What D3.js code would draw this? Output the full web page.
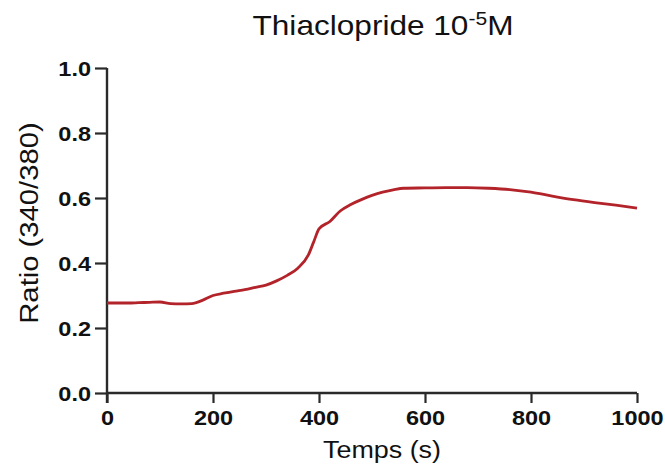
<!DOCTYPE html>
<html>
<head>
<meta charset="utf-8">
<script src="https://cdn.jsdelivr.net/npm/d3@7"></script>
<style>
  html, body { margin: 0; padding: 0; background: #fff; }
  svg { display: block; }
  text { font-family: "Liberation Sans", Arial, sans-serif; fill: #111; }
</style>
</head>
<body>
<svg id="chart" width="665" height="471"></svg>
<script>
// ---- data ----
const timeSeconds = [0, 20, 40, 60, 80, 100, 120, 140, 160, 180, 200, 220, 240, 260, 280, 300, 320, 340, 360, 380, 390, 400, 420, 440, 460, 480, 500, 520, 540, 560, 600, 640, 680, 720, 760, 800, 840, 880, 920, 960, 1000];
const ratioValues = [0.277, 0.277, 0.277, 0.278, 0.279, 0.280, 0.275, 0.274, 0.275, 0.285, 0.300, 0.307, 0.313, 0.318, 0.325, 0.332, 0.345, 0.362, 0.384, 0.425, 0.465, 0.505, 0.527, 0.560, 0.580, 0.595, 0.608, 0.618, 0.625, 0.630, 0.631, 0.632, 0.632, 0.630, 0.626, 0.618, 0.606, 0.595, 0.586, 0.578, 0.569];
const xTicks = [0, 200, 400, 600, 800, 1000];
const yTicks = [0.0, 0.2, 0.4, 0.6, 0.8, 1.0];
const titleMain = "Thiaclopride 10";
const titleSup = "-5";
const titleEnd = "M";
const xTitle = "Temps (s)";
const yTitle = "Ratio (340/380)";

const svg = d3.select("#chart");
const SX = 1.17;     // horizontal glyph stretch for titles
const SXT = 1.12;    // for tick labels

const x = d3.scaleLinear().domain([0, 1000]).range([107, 637]);
const y = d3.scaleLinear().domain([0, 1]).range([393, 68]);

// axes
const axisColor = "#2a2a2a";
const gx = svg.append("g").attr("transform", `translate(0,${y(0)})`)
  .call(d3.axisBottom(x).tickValues(xTicks).tickSize(10).tickPadding(0).tickFormat(d3.format("d")));
const gy = svg.append("g").attr("transform", `translate(${x(0)},0)`)
  .call(d3.axisLeft(y).tickValues(yTicks).tickSize(12).tickPadding(0).tickFormat(d3.format(".1f")));

[gx, gy].forEach(g => {
  g.select(".domain").attr("stroke", axisColor).attr("stroke-width", 2.4);
  g.selectAll(".tick line").attr("stroke", axisColor).attr("stroke-width", 2.2);
});
gx.select(".domain").attr("d", `M${x(0)},0H${x(1000)}`);
gy.select(".domain").attr("d", `M0,${y(1)}V${y(0) + 10}`);

gx.selectAll(".tick text")
  .attr("y", 0).attr("dy", null)
  .attr("transform", "translate(0,32) scale(" + SXT + ",1)")
  .attr("text-anchor", "middle")
  .style("font-size", "21px").style("font-weight", "bold").style("fill", "#111");
gy.selectAll(".tick text")
  .attr("x", 0).attr("dy", null)
  .attr("transform", "translate(-16,7.5) scale(" + SXT + ",1)")
  .attr("text-anchor", "end")
  .style("font-size", "21px").style("font-weight", "bold").style("fill", "#111");

// line
const line = d3.line().x((d, i) => x(timeSeconds[i])).y(d => y(d)).curve(d3.curveMonotoneX);
svg.append("path").datum(ratioValues)
  .attr("d", line)
  .attr("fill", "none")
  .attr("stroke", "#b3232a")
  .attr("stroke-width", 2.8)
  .attr("stroke-linejoin", "round");

// title
const t = svg.append("text")
  .attr("transform", `translate(383,35) scale(${SX},1)`)
  .attr("text-anchor", "middle")
  .style("font-size", "27px");
t.append("tspan").text(titleMain);
t.append("tspan").attr("dy", -10).style("font-size", "18px").text(titleSup);
t.append("tspan").attr("dy", 10).text(titleEnd);

// axis titles
svg.append("text")
  .attr("transform", `translate(382,458) scale(${SX},1)`)
  .attr("text-anchor", "middle")
  .style("font-size", "23px")
  .text(xTitle);

svg.append("text")
  .attr("transform", `translate(38,223) rotate(-90) scale(${SX},1)`)
  .attr("text-anchor", "middle")
  .style("font-size", "25px")
  .text(yTitle);
</script>
</body>
</html>
